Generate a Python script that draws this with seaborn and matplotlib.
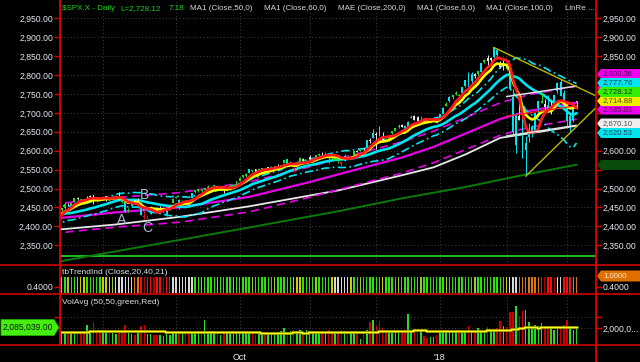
import numpy as np
import pandas as pd
import matplotlib
matplotlib.use("Agg")
import matplotlib.pyplot as plt
from matplotlib.patches import Polygon
import seaborn as sns

sns.set_style("dark")
plt.rcParams["font.family"] = ["Liberation Sans", "DejaVu Sans"]

# ---------------- data ----------------
holidays = ["2017-09-04", "2017-11-23", "2017-12-25", "2018-01-01", "2018-01-15", "2018-02-19"]
dates = pd.bdate_range("2017-07-10", "2018-03-06", freq="C", holidays=holidays)

prior_close = [2431.77, 2429.39, 2440.35, 2437.92, 2432.46, 2433.15, 2453.46, 2437.03, 2435.61, 2434.50,
               2438.30, 2439.07, 2419.38, 2440.69, 2419.70, 2423.41, 2429.01, 2432.54, 2409.75, 2425.18]

open_ = [
    2424.5, 2427.4, 2435.8, 2444.0, 2449.2, 2459.5, 2455.9, 2463.9, 2475.6, 2467.4, 2472.0, 2477.9, 2479.9, 2482.8, 2469.1, 2475.9,
    2477.1, 2480.4, 2476.0, 2476.9, 2477.1, 2478.4, 2465.4, 2465.4, 2441.0, 2454.0, 2468.7, 2468.6, 2462.0, 2427.6, 2425.5, 2433.8, 2444.9, 2447.9, 2444.7, 2447.4, 2431.9, 2446.1, 2462.7,
    2474.4, 2470.4, 2463.8, 2468.1, 2462.3, 2474.5, 2491.9, 2493.9, 2494.6, 2495.7, 2502.5, 2506.3, 2506.8, 2507.2, 2497.3, 2499.4, 2501.0, 2503.3, 2503.4, 2509.4,
    2521.2, 2530.3, 2533.5, 2540.9, 2547.4, 2551.4, 2549.0, 2550.3, 2552.9, 2555.7, 2555.6, 2557.2, 2562.9, 2553.4, 2567.6, 2578.1, 2568.7, 2566.5, 2560.1, 2570.3, 2577.8, 2575.0,
    2583.2, 2579.5, 2581.9, 2587.5, 2592.1, 2588.7, 2584.0, 2580.2, 2576.5, 2577.8, 2569.4, 2572.9, 2582.9, 2579.5, 2589.2, 2600.3, 2600.4, 2602.7, 2605.9, 2627.8, 2633.9,
    2645.1, 2657.2, 2639.8, 2626.2, 2628.4, 2646.2, 2652.2, 2661.7, 2667.6, 2665.9, 2660.6, 2685.9, 2692.7, 2688.2, 2683.0, 2684.2, 2679.1, 2682.1, 2686.1, 2689.2,
    2683.7, 2697.9, 2719.3, 2731.3, 2742.7, 2751.2, 2745.6, 2752.0, 2770.2, 2798.0, 2785.0, 2802.4, 2802.6, 2809.2, 2835.1, 2845.4, 2846.2, 2847.5, 2867.2, 2832.7, 2832.4,
    2816.5, 2808.9, 2741.1, 2614.8, 2691.0, 2685.0, 2601.8, 2636.8, 2646.3, 2651.2, 2713.5, 2727.1, 2723.0, 2720.5, 2710.4, 2715.8, 2757.4, 2780.5, 2753.8,
    2715.2, 2658.9, 2681.1, 2730.2]

high = [
    2432.0, 2429.3, 2445.8, 2449.3, 2463.5, 2462.8, 2460.9, 2473.8, 2477.6, 2472.5, 2473.1, 2481.2, 2481.7, 2484.0, 2473.5, 2477.9,
    2478.5, 2480.4, 2476.0, 2480.0, 2480.9, 2490.9, 2474.4, 2465.4, 2448.1, 2467.0, 2468.9, 2474.9, 2465.0, 2440.3, 2430.6, 2454.8, 2448.9, 2450.4, 2453.9, 2449.1, 2449.2, 2460.3, 2475.0,
    2480.4, 2471.9, 2469.6, 2468.6, 2467.1, 2488.9, 2496.8, 2498.4, 2498.4, 2500.2, 2508.3, 2507.8, 2508.9, 2507.2, 2503.5, 2502.5, 2503.5, 2511.8, 2510.8, 2519.4,
    2529.2, 2535.1, 2540.5, 2552.5, 2549.4, 2551.8, 2555.2, 2555.2, 2555.3, 2557.7, 2559.5, 2559.7, 2564.1, 2562.4, 2575.4, 2578.3, 2572.2, 2567.4, 2567.1, 2582.9, 2580.0, 2578.3,
    2588.4, 2581.1, 2588.4, 2593.4, 2597.0, 2595.5, 2586.5, 2583.8, 2587.7, 2579.7, 2572.8, 2590.1, 2583.9, 2584.6, 2600.0, 2600.9, 2604.2, 2606.4, 2627.7, 2634.9, 2657.7,
    2650.6, 2665.2, 2648.7, 2634.4, 2640.9, 2651.6, 2660.3, 2669.7, 2671.9, 2668.1, 2679.6, 2694.0, 2694.4, 2691.0, 2692.6, 2685.4, 2682.7, 2685.6, 2687.7, 2692.1,
    2695.9, 2714.4, 2729.3, 2743.5, 2748.5, 2759.1, 2750.8, 2767.6, 2787.9, 2807.5, 2807.0, 2805.8, 2810.3, 2833.0, 2842.2, 2853.0, 2848.6, 2872.9, 2870.6, 2837.8, 2839.3,
    2836.0, 2808.9, 2763.4, 2701.0, 2727.7, 2685.3, 2638.7, 2672.6, 2668.8, 2702.1, 2731.5, 2754.4, 2737.6, 2747.8, 2731.3, 2747.8, 2780.6, 2789.2, 2761.5,
    2730.9, 2696.3, 2728.1, 2732.1]

low = [
    2422.3, 2412.8, 2435.8, 2441.4, 2446.7, 2457.2, 2450.3, 2463.9, 2468.4, 2465.1, 2466.3, 2474.9, 2474.9, 2459.9, 2464.7, 2468.5,
    2471.1, 2466.5, 2468.9, 2472.1, 2475.9, 2470.3, 2462.1, 2437.8, 2437.9, 2454.0, 2461.6, 2463.2, 2430.0, 2420.7, 2417.4, 2433.7, 2441.4, 2436.2, 2442.2, 2439.0, 2428.2, 2444.0, 2462.7,
    2473.9, 2446.5, 2459.2, 2460.3, 2459.4, 2474.5, 2488.0, 2492.1, 2491.3, 2493.2, 2499.9, 2503.2, 2496.7, 2499.0, 2496.5, 2488.0, 2495.1, 2495.9, 2502.9, 2507.8,
    2520.4, 2528.9, 2531.8, 2540.0, 2543.8, 2541.6, 2544.9, 2547.9, 2548.3, 2552.0, 2552.6, 2554.7, 2559.2, 2547.9, 2567.6, 2564.3, 2565.6, 2544.0, 2559.8, 2566.2, 2568.8, 2572.2,
    2574.9, 2566.2, 2576.8, 2585.7, 2584.4, 2585.0, 2566.3, 2575.6, 2574.5, 2566.6, 2557.4, 2572.9, 2576.9, 2578.2, 2589.2, 2596.2, 2600.4, 2598.9, 2605.4, 2620.3, 2633.9,
    2605.5, 2639.0, 2627.7, 2624.8, 2628.4, 2644.1, 2651.5, 2659.8, 2662.9, 2652.0, 2659.1, 2685.9, 2680.7, 2676.1, 2682.4, 2678.1, 2677.9, 2678.9, 2682.7, 2673.6,
    2682.4, 2697.8, 2719.1, 2727.9, 2737.6, 2747.9, 2736.1, 2752.0, 2769.6, 2768.6, 2778.4, 2792.6, 2798.1, 2808.1, 2830.6, 2824.8, 2830.9, 2846.2, 2851.5, 2818.3, 2813.0,
    2812.7, 2760.0, 2638.2, 2593.1, 2681.3, 2580.6, 2532.7, 2622.5, 2637.1, 2648.9, 2689.8, 2725.1, 2706.8, 2701.3, 2697.8, 2713.7, 2753.8, 2744.2, 2713.5,
    2659.7, 2647.3, 2675.8, 2711.3]

close = [
    2427.43, 2425.53, 2443.25, 2447.83, 2459.27, 2459.14, 2460.61, 2473.83, 2473.45, 2472.54, 2469.91, 2477.13, 2477.83, 2475.42, 2472.10, 2470.30,
    2476.35, 2477.57, 2472.16, 2476.83, 2480.91, 2474.92, 2474.02, 2438.21, 2441.32, 2465.84, 2464.61, 2468.11, 2430.01, 2425.55, 2428.37, 2452.51, 2444.04, 2438.97, 2443.05, 2444.24, 2446.30, 2457.59, 2471.65,
    2476.55, 2457.85, 2465.54, 2465.10, 2461.43, 2488.11, 2496.48, 2498.37, 2495.62, 2500.23, 2503.87, 2506.65, 2508.24, 2500.60, 2502.22, 2496.66, 2496.84, 2507.04, 2510.06, 2519.36,
    2529.12, 2534.58, 2537.74, 2552.07, 2549.33, 2544.73, 2550.64, 2555.24, 2550.93, 2553.17, 2557.64, 2559.36, 2561.26, 2562.10, 2575.21, 2564.98, 2569.13, 2557.15, 2560.40, 2581.07, 2572.83, 2575.26,
    2579.36, 2579.85, 2587.84, 2591.13, 2590.64, 2594.38, 2584.62, 2582.30, 2584.84, 2578.87, 2564.62, 2585.64, 2578.85, 2582.14, 2599.03, 2597.08, 2602.42, 2601.42, 2627.04, 2626.07, 2647.58,
    2642.22, 2639.44, 2629.57, 2629.27, 2636.98, 2651.50, 2659.99, 2664.11, 2662.85, 2652.01, 2675.81, 2690.16, 2681.47, 2679.25, 2684.57, 2683.34, 2680.50, 2682.62, 2687.54, 2673.61,
    2695.81, 2713.06, 2723.99, 2743.15, 2747.71, 2751.29, 2748.23, 2767.56, 2786.24, 2776.42, 2802.56, 2798.03, 2810.30, 2832.97, 2839.13, 2837.54, 2839.25, 2872.87, 2853.53, 2822.43, 2823.81,
    2821.98, 2762.13, 2648.94, 2695.14, 2681.66, 2581.00, 2619.55, 2656.00, 2662.94, 2698.63, 2731.20, 2732.22, 2716.26, 2701.33, 2703.96, 2747.30, 2779.60, 2744.28, 2713.83,
    2677.67, 2691.25, 2720.94, 2728.12]

volume_m = [
    1.6, 1.7, 1.8, 1.6, 1.7, 1.5, 1.6, 1.7, 1.8, 1.8, 1.6, 2.3, 1.9, 2.6, 1.8, 1.9,
    1.9, 1.8, 1.7, 1.6, 1.5, 1.7, 1.8, 2.3, 1.6, 1.5, 1.4, 1.6, 2.2, 2.3, 1.5, 1.5, 1.4, 1.4, 1.4, 1.3, 1.5, 1.4, 1.7,
    1.6, 1.8, 1.6, 1.5, 1.5, 1.7, 1.7, 1.6, 1.6, 2.8, 1.5, 1.6, 1.6, 1.5, 1.4, 1.6, 1.6, 1.7, 1.5, 1.6,
    1.7, 1.6, 1.6, 1.7, 1.5, 1.4, 1.5, 1.6, 1.7, 1.5, 1.6, 1.6, 1.7, 1.8, 2.0, 1.7, 1.8, 1.9, 1.8, 1.9, 1.6, 1.9,
    1.8, 1.8, 1.6, 1.6, 1.8, 1.7, 1.9, 1.6, 1.6, 1.7, 1.9, 1.8, 1.8, 1.6, 1.6, 1.5, 1.0, 1.7, 1.9, 2.6, 2.8,
    2.2, 2.7, 2.0, 1.8, 1.7, 1.7, 1.8, 1.8, 1.9, 1.9, 3.3, 1.8, 1.8, 1.7, 1.8, 1.3, 1.1, 1.2, 1.2, 1.4,
    1.8, 1.8, 1.8, 1.8, 1.7, 1.8, 1.9, 1.8, 1.8, 2.2, 1.9, 1.9, 2.0, 1.8, 1.8, 2.1, 1.9, 1.9, 2.0, 2.65, 2.2,
    2.1, 3.5, 3.5, 4.0, 3.1, 3.6, 3.7, 2.6, 2.0, 2.3, 2.2, 2.5, 2.0, 2.1, 2.0, 1.9, 2.0, 2.1, 2.3,
    2.75, 2.2, 1.9, 2.085]

# tbTrendInd state per bar, run-length encoded: G green, g yellow-green, Y yellow, W white, O orange, R red, r dark red
trend_runs = [("G", 3), ("Y", 1), ("G", 1), ("g", 1), ("G", 2), ("g", 1), ("Y", 2), ("G", 5), ("Y", 3), ("g", 1),
              ("W", 6), ("O", 2), ("R", 1), ("r", 1), ("R", 2), ("r", 1), ("R", 2), ("r", 1), ("R", 2), ("W", 7),
              ("G", 2), ("g", 1), ("G", 4), ("g", 1), ("G", 4), ("g", 1), ("G", 5), ("g", 1), ("G", 6), ("g", 1),
              ("G", 5), ("Y", 3), ("G", 4), ("g", 1), ("G", 4), ("Y", 1), ("W", 5), ("Y", 1), ("G", 2), ("g", 1),
              ("G", 6), ("Y", 1), ("G", 4), ("g", 1), ("G", 6), ("g", 1), ("G", 7), ("g", 1), ("G", 8), ("g", 1),
              ("G", 9), ("Y", 1), ("W", 3), ("O", 7), ("R", 1), ("r", 1), ("R", 2), ("r", 1), ("W", 2), ("R", 3), ("O", 2)]

# slow averages (knots)
mag_dates = ["2017-07-10", "2017-08-07", "2017-09-05", "2017-10-05", "2017-10-31", "2017-11-30",
             "2017-12-13", "2017-12-28", "2018-01-12", "2018-01-30", "2018-02-12", "2018-03-06"]
mag_vals = [2420, 2437, 2450, 2478, 2515, 2562, 2582, 2610, 2645, 2684, 2705, 2727]
white_dates = ["2017-07-10", "2017-08-07", "2017-09-05", "2017-10-05", "2017-11-14", "2017-12-13",
               "2017-12-28", "2018-01-12", "2018-01-30", "2018-02-20", "2018-03-06"]
white_vals = [2390, 2405, 2425, 2453, 2495, 2535, 2556, 2590, 2634, 2652, 2666]
green_dates = ["2017-07-10", "2017-08-21", "2017-10-05", "2017-11-14", "2017-12-13", "2018-01-12", "2018-02-06", "2018-03-06"]
green_vals = [2304, 2349, 2397, 2440, 2474, 2504, 2532, 2563]
hline_level = 2322

upper_trend_dates = ["2018-01-26", "2018-02-27"]   # through highs
lower_trend_dates = ["2018-02-09", "2018-03-02"]   # through lows
linreg_start = "2018-02-01"
linreg_width = 52

letters = ["A", "B", "C"]
letter_dates = ["2017-08-09", "2017-08-18", "2017-08-21"]
letter_prices = [2417, 2483, 2396]

header_green = [("\\$SPX.X - Daily", 62), ("L=2,728.12", 120), ("7.18", 169)]
header_gray = [("MA1 (Close,50,0)", 190), ("MA1 (Close,60,0)", 264), ("MAE (Close,200,0)", 338),
               ("MA1 (Close,6,0)", 417), ("MA1 (Close,100,0)", 486), ("LinRe ...", 565)]

# right-edge value flags (text, kind); stacking positions are layout below
right_labels = ["2,800.36", "", "2,685.03", "2,714.88", "2,777.76", "2,728.12", "2,670.10", "2,620.53", ""]
right_kinds = ["mag", "mag", "mag", "yel", "cyan", "grn", "wht", "cyan", "dkg"]
covered_right_ticks = [2550, 2650, 2700, 2750, 2800]
vol_last_label = "2,085,039.00"
trend_last_label = "1.0000"

# ---------------- derived ----------------
n = len(dates)
x = np.arange(n)
o = np.array(open_); h = np.array(high); l = np.array(low); c = np.array(close)
vol = np.array(volume_m)
didx = {d.strftime("%Y-%m-%d"): i for i, d in enumerate(dates)}

allc = pd.Series(prior_close + close, dtype=float)
sma6 = allc.rolling(6).mean().values[-n:]
ema9 = allc.ewm(span=9, adjust=False).mean().values[-n:]
sma20 = allc.rolling(20).mean().values[-n:]
prevc = allc.shift(1).values[-n:]
tr = np.maximum(h - l, np.maximum(np.abs(h - prevc), np.abs(l - prevc)))
atr = pd.Series(tr).rolling(20, min_periods=1).mean().values
kel_up, kel_dn = sma20 + 1.5 * atr, sma20 - 1.5 * atr

months = [i for i in range(1, n) if dates[i].month != dates[i - 1].month]

RED = "#e00000"
LBL = "#e6eaf2"
CY = "#00e6f0"
MG = "#e600e6"

cand_col = []
for i in range(n):
    body = abs(c[i] - o[i])
    newlow = i >= 5 and l[i] < l[max(0, i - 10):i].min()
    if body > 0.0042 * c[i]:
        cand_col.append(CY)
    elif newlow:
        cand_col.append("#ee1111")
    elif c[i] >= o[i]:
        cand_col.append("#22dd22")
    else:
        cand_col.append("#e6e6e6")

tmap = {"G": "#33dd11", "g": "#99cc22", "Y": "#cccc00", "W": "#d8d8d8", "O": "#dd7711", "R": "#ee1111", "r": "#aa0000"}
trend_codes = "".join(k * m for k, m in trend_runs)
trend_col = [tmap[k] for k in trend_codes]
vol_col = ["#22dd22" if c[i] >= prevc[i] else "#cc0000" for i in range(n)]
vol_avg = pd.Series(vol).rolling(50, min_periods=1).mean().values

# ---------------- figure ----------------
W, H = 640, 362
fig = plt.figure(figsize=(W / 100, H / 100), dpi=100)
fig.patch.set_facecolor("black")

def frac(top, bottom):
    return [60 / W, 1 - bottom / H, 536 / W, (bottom - top) / H]

ax_p = fig.add_axes(frac(0, 265))
ax_t = fig.add_axes(frac(265, 294))
ax_v = fig.add_axes(frac(294, 345))
XL = ((60 - 52.15) / 3.178, (596 - 52.15) / 3.178)
grid_kw = dict(color="#444444", linestyle=(0, (1, 2.5)), linewidth=0.7)

for ax in (ax_p, ax_t, ax_v):
    ax.set_facecolor("black")
    for s in ax.spines.values():
        s.set_visible(False)
    ax.set_xlim(*XL)
    ax.set_xticks(months)
    ax.tick_params(axis="y", left=True, right=True, labelleft=True, labelright=True,
                   color=RED, labelcolor=LBL, labelsize=6.2, length=4, width=1, pad=1, direction="out")

# price panel
ax_p.set_ylim(2297.9, 2998.4)
yt = np.arange(2350, 2951, 50)
ax_p.set_yticks(yt)
ax_p.set_yticklabels([f"{v:,.2f}" for v in yt])
for v, tk in zip(yt, ax_p.yaxis.get_major_ticks()):
    if v in covered_right_ticks:
        tk.label2.set_visible(False)
ax_p.tick_params(axis="x", length=0, labelbottom=False)
ax_p.grid(True, **grid_kw)
ax_p.axhline(hline_level, color="#22cc22", lw=1.3, zorder=2)

gx = [didx[d] for d in green_dates]
sns.lineplot(x=gx, y=green_vals, ax=ax_p, color="#0b7a0b", linewidth=1.4, zorder=2)
wx = [didx[d] for d in white_dates]
sns.lineplot(x=wx, y=white_vals, ax=ax_p, color="#e8e8e8", linewidth=1.3, zorder=3)
mx = [didx[d] for d in mag_dates]
mv = np.array(mag_vals, dtype=float)
sns.lineplot(x=mx, y=mv * 1.016, ax=ax_p, color=MG, linewidth=1.2, linestyle=(0, (5, 3)), zorder=3)
sns.lineplot(x=mx, y=mv * 0.984, ax=ax_p, color=MG, linewidth=1.2, linestyle=(0, (5, 3)), zorder=3)
sns.lineplot(x=mx, y=mv, ax=ax_p, color=MG, linewidth=1.6, zorder=3)
sns.lineplot(x=x, y=kel_up, ax=ax_p, color=CY, linewidth=1.2, linestyle=(0, (5, 2, 1, 2)), zorder=4)
sns.lineplot(x=x, y=kel_dn, ax=ax_p, color=CY, linewidth=1.2, linestyle=(0, (5, 2, 1, 2)), zorder=4)
sns.lineplot(x=x, y=sma20, ax=ax_p, color=CY, linewidth=1.9, zorder=4)

# candles
ax_p.vlines(x, l, h, colors=cand_col, linewidth=0.7, zorder=5)
body_lo = np.minimum(o, c)
body_h = np.maximum(np.abs(c - o), 1.0)
ax_p.bar(x, body_h, bottom=body_lo, width=0.6, color=cand_col, linewidth=0, zorder=5)

sns.lineplot(x=x, y=ema9, ax=ax_p, color="#ffff00", linewidth=1.9, zorder=6)
sns.lineplot(x=x, y=sma6, ax=ax_p, color="#ff1a1a", linewidth=2.0, zorder=7)

# linear regression channel
i0 = didx[linreg_start]
xr = x[i0:]
k, b = np.polyfit(xr, c[i0:], 1)
mid = k * xr + b
sns.lineplot(x=xr, y=mid, ax=ax_p, color="#ff2020", linewidth=0.9, zorder=8)
sns.lineplot(x=xr, y=mid + linreg_width, ax=ax_p, color="#e0e0e0", linewidth=1.1, zorder=8)
sns.lineplot(x=xr, y=mid - linreg_width, ax=ax_p, color="#e0e0e0", linewidth=1.1, zorder=8)

# trend lines
def trendline(ds, arr):
    a, bb = didx[ds[0]], didx[ds[1]]
    slope = (arr[bb] - arr[a]) / (bb - a)
    xs = np.array([a, XL[1]])
    return xs, arr[a] + slope * (xs - a)

tx, ty = trendline(upper_trend_dates, h)
ax_p.plot(tx, ty, color="#b8b800", lw=1.0, zorder=8)
tx, ty = trendline(lower_trend_dates, l)
ax_p.plot(tx, ty, color="#b8b800", lw=1.0, zorder=8)

for t, d, p in zip(letters, letter_dates, letter_prices):
    ax_p.text(didx[d], p, t, color="#a9bdd9", fontsize=10, ha="center", va="center", zorder=9)

# trend indicator panel
ax_t.set_ylim(-0.05, 1.75)
ax_t.set_yticks([0.4])
ax_t.set_yticklabels(["0.4000"])
ax_t.tick_params(axis="x", length=0, labelbottom=False)
ax_t.bar(x, np.ones(n), width=0.45, color=trend_col, linewidth=0)

# volume panel
ax_v.set_ylim(0.5, 5.136)
ax_v.set_yticks([2.0, 3.0])
ax_v.set_yticklabels(["2,000,0...", ""])
ax_v.tick_params(axis="y", labelleft=False)
ax_v.grid(True, **grid_kw)
ax_v.bar(x, vol, width=0.5, color=vol_col, linewidth=0, zorder=3)
sns.lineplot(x=x, y=vol_avg, ax=ax_v, color="#9a9a00", linewidth=2.0, drawstyle="steps-mid", zorder=4)
sns.lineplot(x=x, y=vol_avg, ax=ax_v, color="#ffff20", linewidth=0.9, drawstyle="steps-mid", zorder=5)
xlabels = []
for i in months:
    if dates[i].month == 10:
        xlabels.append("Oct")
    elif dates[i].month == 1:
        xlabels.append("'" + dates[i].strftime("%y"))
    else:
        xlabels.append("")
ax_v.set_xticklabels(xlabels)
ax_v.tick_params(axis="x", color=RED, length=4, width=1, direction="out", labelsize=6.5, labelcolor=LBL, pad=2)

# ---------------- overlay (frame, header, value flags) ----------------
ov = fig.add_axes([0, 0, 1, 1])
ov.set_xlim(0, W)
ov.set_ylim(H, 0)
ov.axis("off")
ov.patch.set_alpha(0)

ov.plot([60, 60], [0, 345], color=RED, lw=1.3, solid_capstyle="butt")
ov.plot([596, 596], [0, H], color=RED, lw=1.3, solid_capstyle="butt")
for yy in (265, 294, 345):
    ov.plot([0, W], [yy, yy], color=RED, lw=1.1, solid_capstyle="butt")

for t, xx in header_green:
    ov.text(xx, 8.5, t, color="#1fd01f", fontsize=5.8, va="center", ha="left")
for t, xx in header_gray:
    ov.text(xx, 8.5, t, color="#d8d8d8", fontsize=5.8, va="center", ha="left")
ov.text(62, 272, "tbTrendInd (Close,20,40,21)", color="#e0e0e0", fontsize=6, va="center")
ov.text(62, 302, "VolAvg (50,50,green,Red)", color="#e0e0e0", fontsize=6, va="center")

kinds = {"mag": ("#ee00ee", "#4a0a4a"), "yel": ("#eeee00", "#4a4a00"), "cyan": ("#00e5ee", "#1b3b5a"),
         "grn": ("#33ee00", "#0b3b0b"), "wht": ("#eeeeee", "#555555"), "dkg": ("#0a4a0a", "#0f6a0f")}
flag_ypx = [74, 88, 109.5, 101, 83, 92, 123.5, 133, 165]

def rbox(y, text, fc, tc, hh=10):
    pts = [(597, y), (601, y - hh / 2), (640, y - hh / 2), (640, y + hh / 2), (601, y + hh / 2)]
    ov.add_patch(Polygon(pts, closed=True, fc=fc, ec="none"))
    if text:
        ov.text(603, y, text, color=tc, fontsize=5.6, va="center", ha="left")

for t, kd, yy in zip(right_labels, right_kinds, flag_ypx):
    fc, tc = kinds[kd]
    rbox(yy, t, fc, tc)
rbox(276, trend_last_label, "#dd7000", "#ffe8d0", hh=11)

pts = [(1, 319.5), (54, 319.5), (59, 327.5), (54, 335.5), (1, 335.5)]
ov.add_patch(Polygon(pts, closed=True, fc="#44ee11", ec="#22aa00", lw=0.6))
ov.text(28, 327.5, vol_last_label, color="#0a1a0a", fontsize=6.2, va="center", ha="center")

fig.savefig("out.png", dpi=100, facecolor="black")
